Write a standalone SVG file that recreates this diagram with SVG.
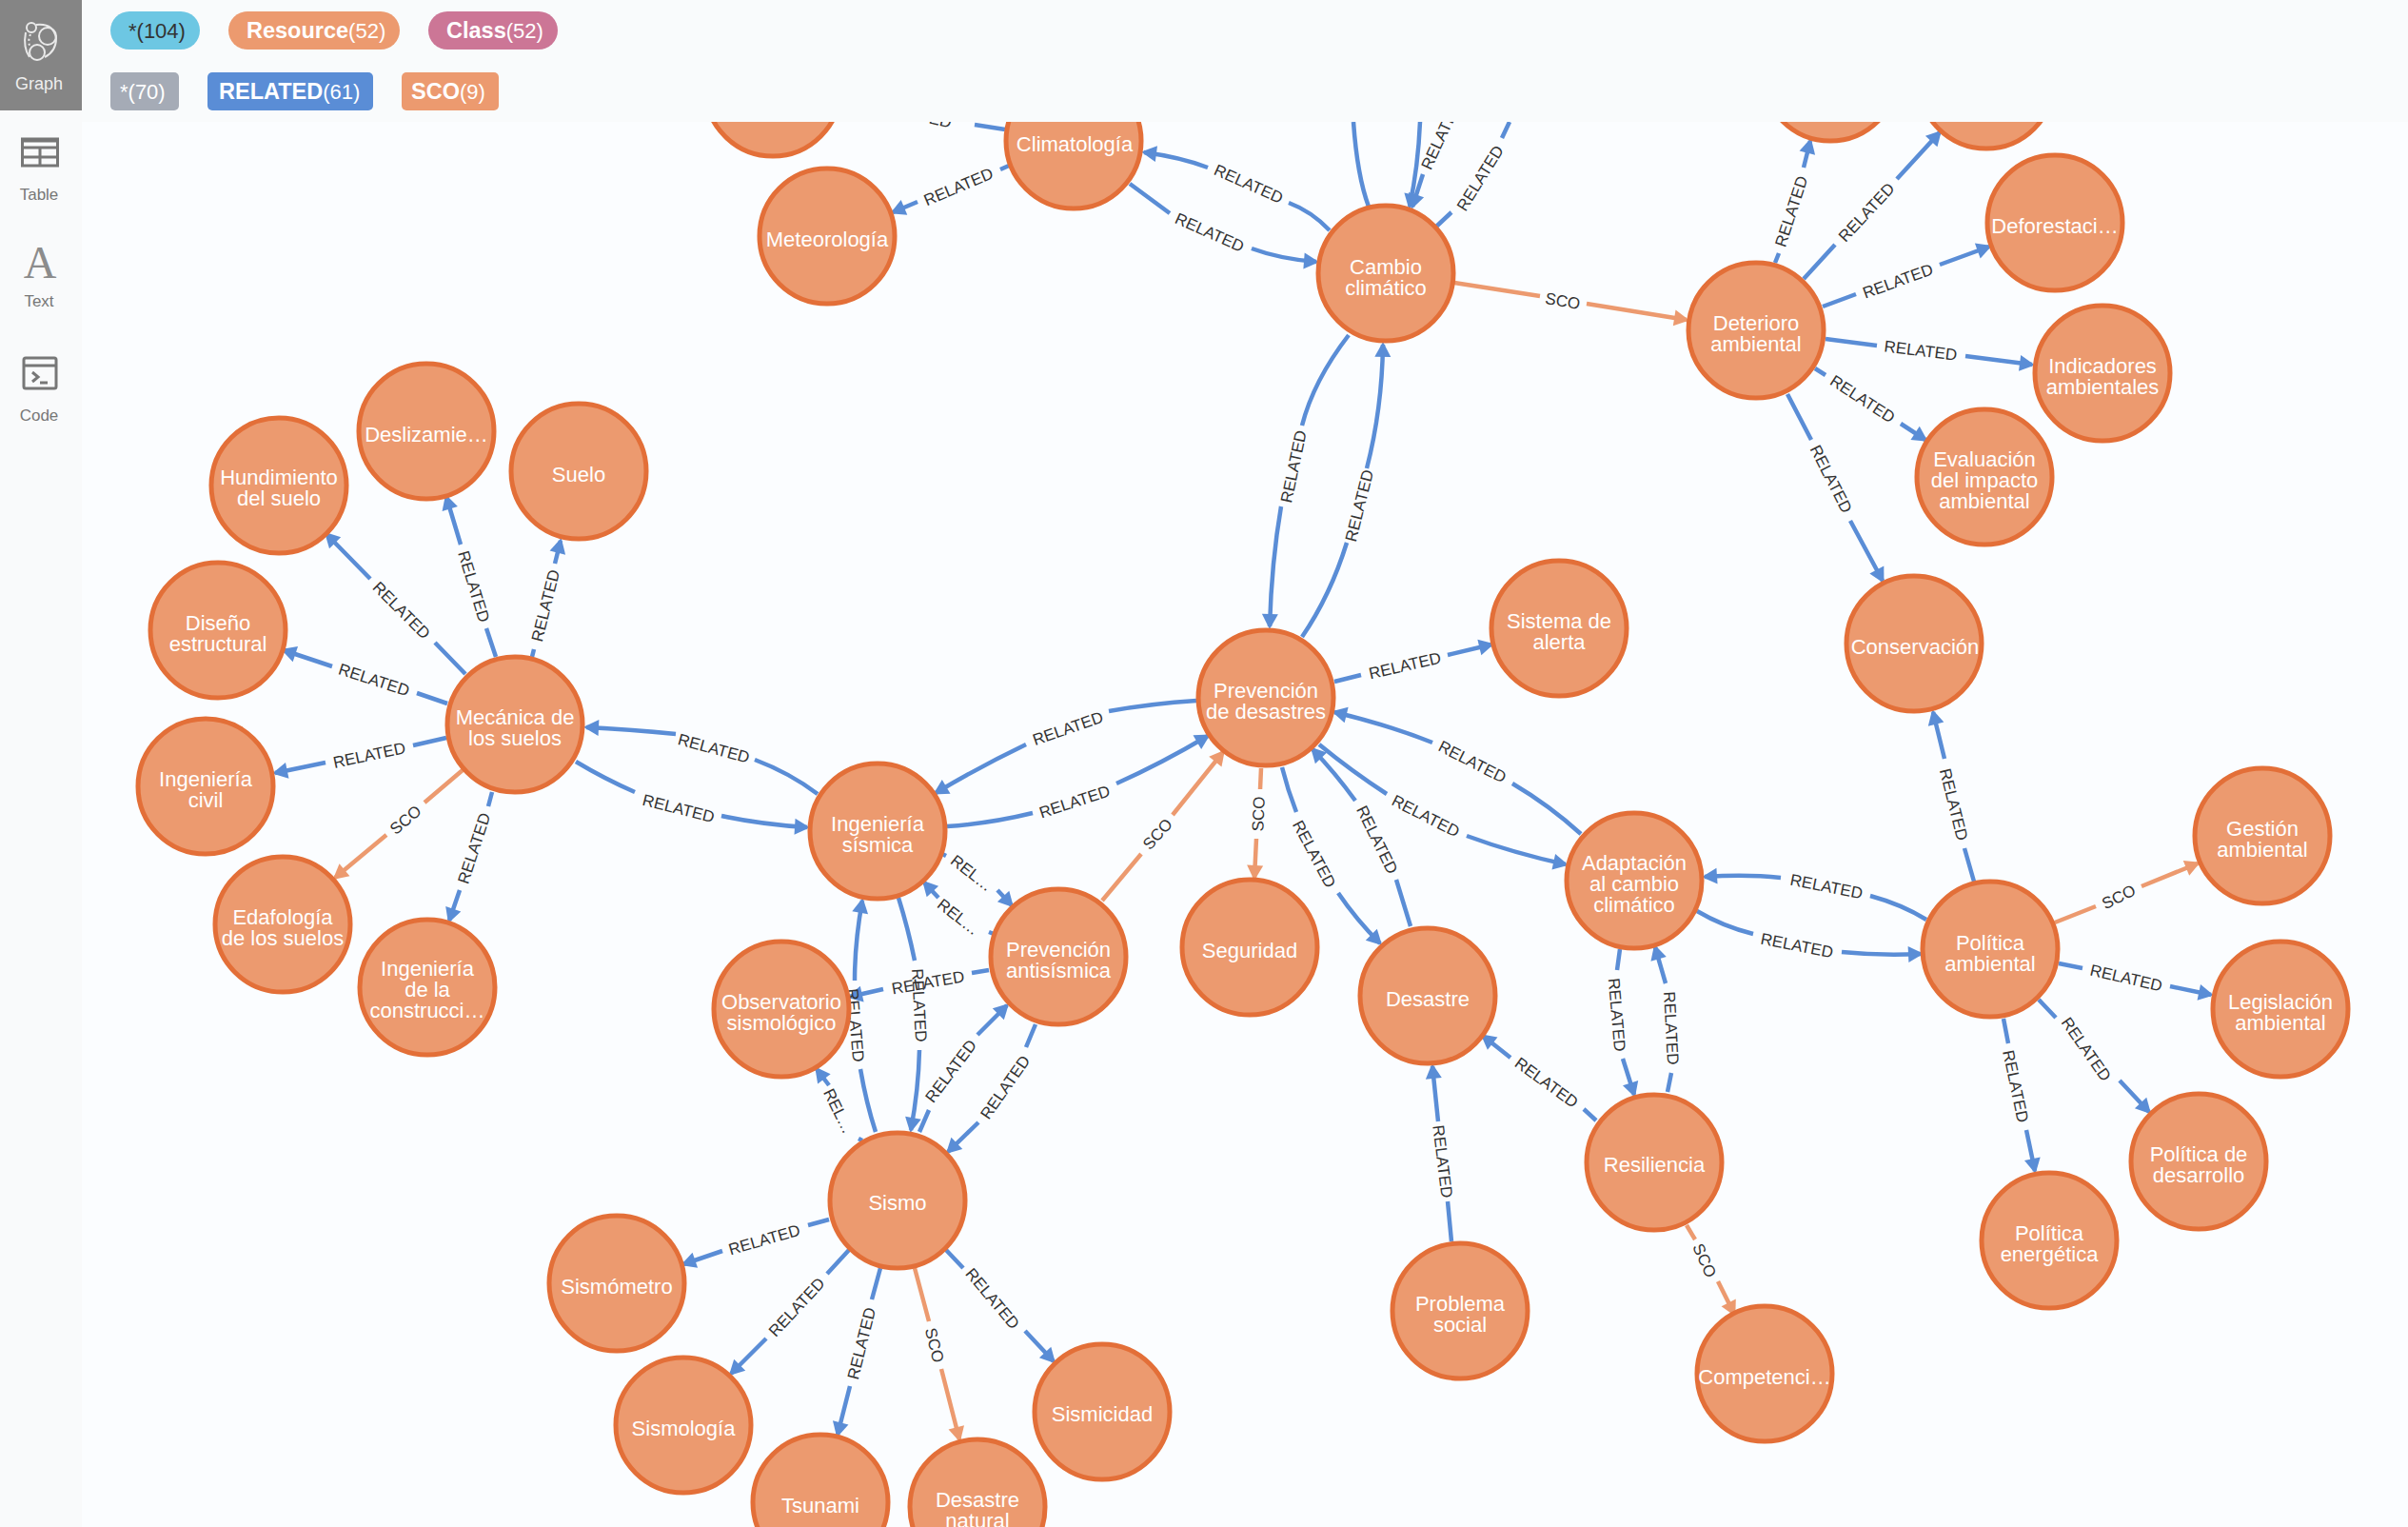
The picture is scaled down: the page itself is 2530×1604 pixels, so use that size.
<svg xmlns="http://www.w3.org/2000/svg" width="2530" height="1604" viewBox="0 0 2530 1604">
<style>
text{font-family:"Liberation Sans",Arial,sans-serif}
.r,.s{fill:none;stroke-width:4.5}
.r{stroke:#5a8dd6;marker-end:url(#ar)}
.s{stroke:#ec9a6f;marker-end:url(#as)}
.nm{marker-end:none}
.l{font-size:17px;fill:#333;text-anchor:middle}
.node circle{fill:#ec9a6f;stroke:#e36f38;stroke-width:5}
.node text{font-size:22px;fill:#fff;text-anchor:middle}
.pt{font-size:22px}
.pt tspan{font-weight:700;font-size:23.5px}
.side{font-size:17px;fill:#777;text-anchor:middle}
.ic{fill:none;stroke:#777;stroke-width:3}
.ig{fill:none;stroke:#e9e9e9;stroke-width:2}
</style>
<defs>
<marker id="ar" markerUnits="userSpaceOnUse" markerWidth="20" markerHeight="20" viewBox="-1 -10 20 20" refX="13" refY="0" orient="auto"><path d="M0,-8.5L16,0L0,8.5Z" fill="#5a8dd6"/></marker>
<marker id="as" markerUnits="userSpaceOnUse" markerWidth="20" markerHeight="20" viewBox="-1 -10 20 20" refX="13" refY="0" orient="auto"><path d="M0,-8.5L16,0L0,8.5Z" fill="#ec9a6f"/></marker>
</defs>
<rect width="2530" height="1604" fill="#fbfdff"/>
<g id="connectors">
<path class="r nm" d="M1024,131L1056,136"/><text class="l" y="6" transform="translate(962 120) rotate(13)">RELATED</text>
<path class="r" d="M1060,174L1051,178M964,212L938,223"/><text class="l" y="6" transform="translate(1007 196) rotate(-23)">RELATED</text>
<path class="r" d="M1397,242Q1378,222 1354,213M1269,176Q1240,165 1202,160"/><text class="l" y="6" transform="translate(1312 193) rotate(24)">RELATED</text>
<path class="r" d="M1187,193L1229,224M1315,261Q1345,272 1383,275"/><text class="l" y="6" transform="translate(1271 244) rotate(24)">RELATED</text>
<path class="r nm" d="M1422,128Q1426,185 1438,217"/>
<path class="r" d="M1492,128Q1490,175 1481,217"/>
<path class="r" d="M1495,183L1484,217"/><text class="l" y="6" transform="translate(1514 142) rotate(-65)">RELATED</text>
<path class="r nm" d="M1509,238L1525,223M1578,145L1586,128"/><text class="l" y="6" transform="translate(1555 187) rotate(-58)">RELATED</text>
<path class="s" d="M1528,297L1618,311M1667,319L1772,336"/><text class="l" y="6" transform="translate(1642 316) rotate(10)">SCO</text>
<path class="r" d="M1417,352Q1380,400 1368,447M1346,532Q1336,590 1334,658"/><text class="l" y="6" transform="translate(1359 490) rotate(-78)">RELATED</text>
<path class="r" d="M1368,669Q1398,625 1415,570M1436,492Q1452,430 1453,362"/><text class="l" y="6" transform="translate(1428 531) rotate(-76)">RELATED</text>
<path class="r" d="M1865,276L1869,266M1895,176L1902,148"/><text class="l" y="6" transform="translate(1882 222) rotate(-72)">RELATED</text>
<path class="r" d="M1895,293L1928,257M1993,188L2038,139"/><text class="l" y="6" transform="translate(1961 223) rotate(-47)">RELATED</text>
<path class="r" d="M1915,322L1950,309M2038,278L2090,259"/><text class="l" y="6" transform="translate(1994 295) rotate(-20)">RELATED</text>
<path class="r" d="M1918,356L1972,363M2065,374L2135,383"/><text class="l" y="6" transform="translate(2018 368) rotate(7)">RELATED</text>
<path class="r" d="M1907,387L1918,394M1997,445L2023,462"/><text class="l" y="6" transform="translate(1957 419) rotate(33)">RELATED</text>
<path class="r" d="M1878,414L1903,462M1944,547L1978,610"/><text class="l" y="6" transform="translate(1924 503) rotate(63)">RELATED</text>
<path class="r" d="M2074,926L2064,891M2043,797L2031,748"/><text class="l" y="6" transform="translate(2053 845) rotate(76)">RELATED</text>
<path class="r" d="M2024,966Q1998,950 1965,941M1871,922Q1835,918 1791,921"/><text class="l" y="6" transform="translate(1919 931) rotate(11)">RELATED</text>
<path class="r" d="M1783,957Q1810,973 1842,981M1935,1000Q1975,1004 2018,1002"/><text class="l" y="6" transform="translate(1888 993) rotate(11)">RELATED</text>
<path class="s" d="M2159,969L2202,952M2250,931L2309,907"/><text class="l" y="6" transform="translate(2226 942) rotate(-26)">SCO</text>
<path class="r" d="M2163,1012L2188,1017M2280,1036L2323,1045"/><text class="l" y="6" transform="translate(2234 1027) rotate(13)">RELATED</text>
<path class="r" d="M2142,1050L2160,1069M2227,1135L2258,1168"/><text class="l" y="6" transform="translate(2192 1102) rotate(55)">RELATED</text>
<path class="r" d="M2105,1070L2110,1096M2129,1187L2138,1230"/><text class="l" y="6" transform="translate(2118 1141) rotate(78)">RELATED</text>
<path class="r" d="M1702,997L1699,1019M1705,1112L1717,1150"/><text class="l" y="6" transform="translate(1699 1066) rotate(85)">RELATED</text>
<path class="r" d="M1752,1147L1756,1127M1750,1033L1739,995"/><text class="l" y="6" transform="translate(1756 1080) rotate(87)">RELATED</text>
<path class="s" d="M1772,1287L1781,1302M1805,1346L1822,1380"/><text class="l" y="6" transform="translate(1791 1324) rotate(66)">SCO</text>
<path class="r" d="M1677,1177L1664,1165M1587,1111L1558,1088"/><text class="l" y="6" transform="translate(1625 1137) rotate(36)">RELATED</text>
<path class="r" d="M1525,1304L1521,1262M1511,1178L1505,1120"/><text class="l" y="6" transform="translate(1516 1220) rotate(83)">RELATED</text>
<path class="r" d="M1402,716L1430,709M1521,688L1567,677"/><text class="l" y="6" transform="translate(1476 699) rotate(-13)">RELATED</text>
<path class="r" d="M1661,876Q1628,846 1589,823M1505,780Q1460,762 1402,748"/><text class="l" y="6" transform="translate(1547 800) rotate(27)">RELATED</text>
<path class="r" d="M1386,782Q1420,810 1457,834M1541,878Q1590,896 1645,908"/><text class="l" y="6" transform="translate(1498 857) rotate(27)">RELATED</text>
<path class="r" d="M1347,806Q1353,830 1362,853M1406,938Q1425,966 1450,991"/><text class="l" y="6" transform="translate(1381 897) rotate(62)">RELATED</text>
<path class="r" d="M1482,973L1467,924M1424,841Q1403,812 1379,787"/><text class="l" y="6" transform="translate(1447 882) rotate(64)">RELATED</text>
<path class="s" d="M1325,807L1324,829M1320,881L1318,922"/><text class="l" y="6" transform="translate(1322 855) rotate(-88)">SCO</text>
<path class="r" d="M995,868Q1040,865 1085,854M1173,823Q1220,802 1269,773"/><text class="l" y="6" transform="translate(1129 842) rotate(-18)">RELATED</text>
<path class="r" d="M1257,736Q1210,739 1165,747M1078,782Q1030,805 983,833"/><text class="l" y="6" transform="translate(1122 765) rotate(-19)">RELATED</text>
<path class="s" d="M1158,946L1199,897M1232,856L1285,790"/><text class="l" y="6" transform="translate(1216 876) rotate(-48)">SCO</text>
<path class="r" d="M990,897L994,899M1048,935L1063,951"/><text class="l" y="6" transform="translate(1021 917) rotate(38)">REL…</text>
<path class="r nm" d="M1044,981L1039,979"/>
<path class="r" d="M986,943L971,927"/><text class="l" y="6" transform="translate(1007 963) rotate(38)">REL…</text>
<path class="r" d="M1039,1019L1021,1022M928,1039L893,1047"/><text class="l" y="6" transform="translate(975 1032) rotate(-10)">RELATED</text>
<path class="r" d="M920,1189Q910,1158 904,1123M898,1030Q898,990 906,946"/><text class="l" y="6" transform="translate(899 1077) rotate(85)">RELATED</text>
<path class="r" d="M944,943Q954,975 961,1009M966,1103Q965,1145 957,1187"/><text class="l" y="6" transform="translate(966 1056) rotate(87)">RELATED</text>
<path class="r" d="M966,1189L976,1166M1027,1087L1058,1056"/><text class="l" y="6" transform="translate(999 1125) rotate(-53)">RELATED</text>
<path class="r" d="M1088,1076L1078,1100M1028,1179L996,1210"/><text class="l" y="6" transform="translate(1056 1142) rotate(-55)">RELATED</text>
<path class="r nm" d="M906,1198L902,1196"/>
<path class="r" d="M871,1140L858,1123"/><text class="l" y="6" transform="translate(881 1167) rotate(64)">REL…</text>
<path class="r" d="M871,1281L849,1287M759,1314L718,1328"/><text class="l" y="6" transform="translate(803 1302) rotate(-16)">RELATED</text>
<path class="r" d="M892,1313L869,1338M805,1406L768,1443"/><text class="l" y="6" transform="translate(837 1373) rotate(-47)">RELATED</text>
<path class="r" d="M925,1332L916,1365M893,1456L880,1507"/><text class="l" y="6" transform="translate(905 1411) rotate(-76)">RELATED</text>
<path class="s" d="M961,1332L976,1388M989,1438L1008,1512"/><text class="l" y="6" transform="translate(982 1413) rotate(76)">SCO</text>
<path class="r" d="M994,1313L1012,1332M1077,1398L1107,1430"/><text class="l" y="6" transform="translate(1043 1364) rotate(50)">RELATED</text>
<path class="r" d="M470,739L438,728M349,700L298,683"/><text class="l" y="6" transform="translate(393 714) rotate(18)">RELATED</text>
<path class="r" d="M469,775L434,783M342,801L289,812"/><text class="l" y="6" transform="translate(388 793) rotate(-12)">RELATED</text>
<path class="s" d="M486,809L446,843M406,877L352,922"/><text class="l" y="6" transform="translate(426 861) rotate(-40)">SCO</text>
<path class="r" d="M517,832L513,847M483,935L472,967"/><text class="l" y="6" transform="translate(498 891) rotate(-72)">RELATED</text>
<path class="r" d="M489,708L457,675M389,608L343,561"/><text class="l" y="6" transform="translate(422 641) rotate(45)">RELATED</text>
<path class="r" d="M521,690L511,660M484,572L469,522"/><text class="l" y="6" transform="translate(498 616) rotate(73)">RELATED</text>
<path class="r" d="M559,690L561,682M583,592L589,568"/><text class="l" y="6" transform="translate(573 636) rotate(-76)">RELATED</text>
<path class="r" d="M859,834Q830,812 793,798M710,771Q660,766 616,764"/><text class="l" y="6" transform="translate(750 786) rotate(15)">RELATED</text>
<path class="r" d="M605,800Q635,818 667,832M758,857Q800,866 848,869"/><text class="l" y="6" transform="translate(713 849) rotate(14)">RELATED</text>
</g>
<g id="nodes">
<g class="node" id="n-top-left"><circle cx="812" cy="93" r="71"/></g>
<g class="node" id="n-top-right1"><circle cx="1923" cy="77" r="71"/></g>
<g class="node" id="n-top-right2"><circle cx="2087" cy="85" r="71"/></g>
<g class="node" id="n-climatologia"><circle cx="1128" cy="148" r="71"/><text x="1129" y="159">Climatología</text></g>
<g class="node" id="n-meteorologia"><circle cx="869" cy="248" r="71"/><text x="869" y="259">Meteorología</text></g>
<g class="node" id="n-cambio"><circle cx="1456" cy="287" r="71"/><text x="1456" y="288">Cambio</text><text x="1456" y="310">climático</text></g>
<g class="node" id="n-deterioro"><circle cx="1845" cy="347" r="71"/><text x="1845" y="347">Deterioro</text><text x="1845" y="369">ambiental</text></g>
<g class="node" id="n-deforestacion"><circle cx="2159" cy="234" r="71"/><text x="2159" y="245">Deforestaci…</text></g>
<g class="node" id="n-indicadores"><circle cx="2209" cy="392" r="71"/><text x="2209" y="392">Indicadores</text><text x="2209" y="414">ambientales</text></g>
<g class="node" id="n-evaluacion"><circle cx="2085" cy="501" r="71"/><text x="2085" y="490">Evaluación</text><text x="2085" y="512">del impacto</text><text x="2085" y="534">ambiental</text></g>
<g class="node" id="n-conservacion"><circle cx="2011" cy="676" r="71"/><text x="2012" y="687">Conservación</text></g>
<g class="node" id="n-sistema"><circle cx="1638" cy="660" r="71"/><text x="1638" y="660">Sistema de</text><text x="1638" y="682">alerta</text></g>
<g class="node" id="n-prevencion"><circle cx="1330" cy="733" r="71"/><text x="1330" y="733">Prevención</text><text x="1330" y="755">de desastres</text></g>
<g class="node" id="n-adaptacion"><circle cx="1717" cy="925" r="71"/><text x="1717" y="914">Adaptación</text><text x="1717" y="936">al cambio</text><text x="1717" y="958">climático</text></g>
<g class="node" id="n-seguridad"><circle cx="1313" cy="995" r="71"/><text x="1313" y="1006">Seguridad</text></g>
<g class="node" id="n-desastre"><circle cx="1500" cy="1046" r="71"/><text x="1500" y="1057">Desastre</text></g>
<g class="node" id="n-resiliencia"><circle cx="1738" cy="1221" r="71"/><text x="1738" y="1231">Resiliencia</text></g>
<g class="node" id="n-problema"><circle cx="1534" cy="1377" r="71"/><text x="1534" y="1377">Problema</text><text x="1534" y="1399">social</text></g>
<g class="node" id="n-competencia"><circle cx="1854" cy="1443" r="71"/><text x="1854" y="1454">Competenci…</text></g>
<g class="node" id="n-politica"><circle cx="2091" cy="997" r="71"/><text x="2091" y="998">Política</text><text x="2091" y="1020">ambiental</text></g>
<g class="node" id="n-gestion"><circle cx="2377" cy="878" r="71"/><text x="2377" y="878">Gestión</text><text x="2377" y="900">ambiental</text></g>
<g class="node" id="n-legislacion"><circle cx="2396" cy="1060" r="71"/><text x="2396" y="1060">Legislación</text><text x="2396" y="1082">ambiental</text></g>
<g class="node" id="n-desarrollo"><circle cx="2310" cy="1220" r="71"/><text x="2310" y="1220">Política de</text><text x="2310" y="1242">desarrollo</text></g>
<g class="node" id="n-energetica"><circle cx="2153" cy="1303" r="71"/><text x="2153" y="1303">Política</text><text x="2153" y="1325">energética</text></g>
<g class="node" id="n-ing-sismica"><circle cx="922" cy="873" r="71"/><text x="922" y="873">Ingeniería</text><text x="922" y="895">sísmica</text></g>
<g class="node" id="n-antisismica"><circle cx="1112" cy="1005" r="71"/><text x="1112" y="1005">Prevención</text><text x="1112" y="1027">antisísmica</text></g>
<g class="node" id="n-observatorio"><circle cx="821" cy="1060" r="71"/><text x="821" y="1060">Observatorio</text><text x="821" y="1082">sismológico</text></g>
<g class="node" id="n-sismo"><circle cx="943" cy="1261" r="71"/><text x="943" y="1271">Sismo</text></g>
<g class="node" id="n-sismometro"><circle cx="648" cy="1348" r="71"/><text x="648" y="1359">Sismómetro</text></g>
<g class="node" id="n-sismologia"><circle cx="718" cy="1497" r="71"/><text x="718" y="1508">Sismología</text></g>
<g class="node" id="n-tsunami"><circle cx="862" cy="1578" r="71"/><text x="862" y="1589">Tsunami</text></g>
<g class="node" id="n-desastre-natural"><circle cx="1027" cy="1583" r="71"/><text x="1027" y="1583">Desastre</text><text x="1027" y="1605">natural</text></g>
<g class="node" id="n-sismicidad"><circle cx="1158" cy="1483" r="71"/><text x="1158" y="1493">Sismicidad</text></g>
<g class="node" id="n-mecanica"><circle cx="541" cy="761" r="71"/><text x="541" y="761">Mecánica de</text><text x="541" y="783">los suelos</text></g>
<g class="node" id="n-deslizamiento"><circle cx="448" cy="453" r="71"/><text x="448" y="464">Deslizamie…</text></g>
<g class="node" id="n-suelo"><circle cx="608" cy="495" r="71"/><text x="608" y="506">Suelo</text></g>
<g class="node" id="n-hundimiento"><circle cx="293" cy="510" r="71"/><text x="293" y="509">Hundimiento</text><text x="293" y="531">del suelo</text></g>
<g class="node" id="n-diseno"><circle cx="229" cy="662" r="71"/><text x="229" y="662">Diseño</text><text x="229" y="684">estructural</text></g>
<g class="node" id="n-ing-civil"><circle cx="216" cy="826" r="71"/><text x="216" y="826">Ingeniería</text><text x="216" y="848">civil</text></g>
<g class="node" id="n-edafologia"><circle cx="297" cy="971" r="71"/><text x="297" y="971">Edafología</text><text x="297" y="993">de los suelos</text></g>
<g class="node" id="n-ing-construccion"><circle cx="449" cy="1037" r="71"/><text x="449" y="1025">Ingeniería</text><text x="449" y="1047">de la</text><text x="449" y="1069">construcci…</text></g>
</g>
<rect id="topbar" x="86" width="2444" height="128" fill="#f9fbfc"/>
<g id="sidebar">
<rect width="86" height="1604" fill="#f9fafb"/>
<rect width="86" height="116" fill="#858585"/>
<circle class="ig" cx="33" cy="29" r="5"/><circle class="ig" cx="50" cy="38" r="9"/><circle class="ig" cx="39" cy="55" r="8"/>
<path class="ig" d="M38,26Q56,24 59,40Q59,54 47,60M31,60Q24,50 27,34"/>
<path class="ig" stroke-dasharray="2 3" d="M32,36Q28,46 33,50"/>
<text class="side" x="41" y="94" style="fill:#eee;font-size:18px">Graph</text>
<rect class="ic" x="23.5" y="146" width="37" height="28"/><path class="ic" stroke-width="2" d="M24,155H60M24,165H60M42,155V174"/><path class="ic" d="M24,148H60"/>
<text class="side" x="41" y="210">Table</text>
<text x="42" y="292" text-anchor="middle" style="font-family:'Liberation Serif',serif;font-size:48px;fill:#8c8c8c">A</text>
<text class="side" x="41" y="322">Text</text>
<rect class="ic" x="25" y="376" width="34" height="32" rx="2"/><path class="ic" d="M25,384H59M34,391L40,396L34,401M42,402H50"/>
<text class="side" x="41" y="442">Code</text>
</g>
<g id="legend">
<rect x="116" y="12" width="94" height="40" rx="20" fill="#6dc7e3"/><text class="pt" x="135" y="40" fill="#333">*(104)</text>
<rect x="240" y="12" width="180" height="40" rx="20" fill="#ec9a6f"/><text class="pt" x="259" y="40" fill="#fff"><tspan>Resource</tspan>(52)</text>
<rect x="450" y="12" width="136" height="40" rx="20" fill="#cc7696"/><text class="pt" x="469" y="40" fill="#fff"><tspan>Class</tspan>(52)</text>
<rect x="116" y="76" width="72" height="40" rx="5" fill="#a5abb6"/><text class="pt" x="126" y="104" fill="#fff">*(70)</text>
<rect x="218" y="76" width="174" height="40" rx="5" fill="#5a8dd6"/><text class="pt" x="230" y="104" fill="#fff"><tspan>RELATED</tspan>(61)</text>
<rect x="422" y="76" width="102" height="40" rx="5" fill="#ec9a6f"/><text class="pt" x="432" y="104" fill="#fff"><tspan>SCO</tspan>(9)</text>
</g>
</svg>
